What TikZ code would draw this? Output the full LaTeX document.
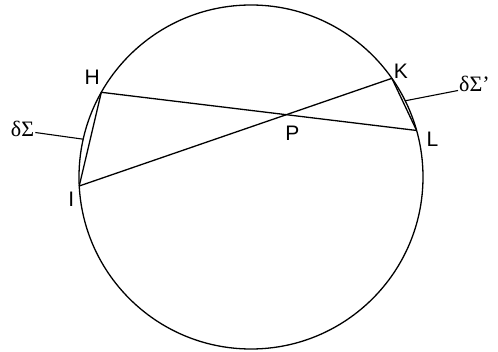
\documentclass[tikz,border=0pt]{standalone}
\usepackage{fontspec}
\setmainfont{Liberation Sans}
\newfontfamily\serifgreek{Liberation Serif}
\usetikzlibrary{calc}

\begin{document}
\begin{tikzpicture}[
    x=1pt, y=1pt,
    linea/.style={line width=1.3pt},
    punto/.style={font=\fontsize{21}{24}\selectfont, inner sep=0pt},
    etiqueta/.style={font=\serifgreek\fontsize{22}{25}\selectfont, inner sep=0pt}
]
\useasboundingbox (0,0) rectangle (498,351);

\coordinate (O) at (251,174);
\coordinate (H) at ($(O)+(150.5:172)$);
\coordinate (I) at ($(O)+(183:172)$);
\coordinate (K) at ($(O)+(35:172)$);
\coordinate (L) at ($(O)+(15.7:172)$);
\coordinate (a) at ($(O)+(167.3:172)$);
\coordinate (b) at ($(O)+(26.3:172)$);
\coordinate (P) at (intersection of H--L and I--K);

\draw[linea] (O) circle[radius=172pt];
\draw[linea] (H) -- (L);
\draw[linea] (I) -- (K);
\draw[linea] (H) -- (I);
\draw[linea] (K) -- (L);

\node[punto] (lH) at ($(H)+(-9,15)$) {H};
\node[punto] (lK) at ($(K)+(9,7)$) {K};
\node[punto] (lL) at ($(L)+(16,-8.5)$) {L};
\node[punto] (lI) at ($(I)+(-8,-13)$) {I};
\node[punto] (lP) at ($(P)+(6,-19)$) {P};

\node[etiqueta] (ds) at (22.5,222.5) {δΣ};
\node[etiqueta, anchor=west] (dsp) at (459,267.5) {δΣ’};
\draw[line width=1.1pt] ([xshift=1pt,yshift=-4pt]ds.east) -- (a);
\draw[line width=1.1pt] ([xshift=-1pt,yshift=-7pt]dsp.west) -- (b);

\end{tikzpicture}
\end{document}
